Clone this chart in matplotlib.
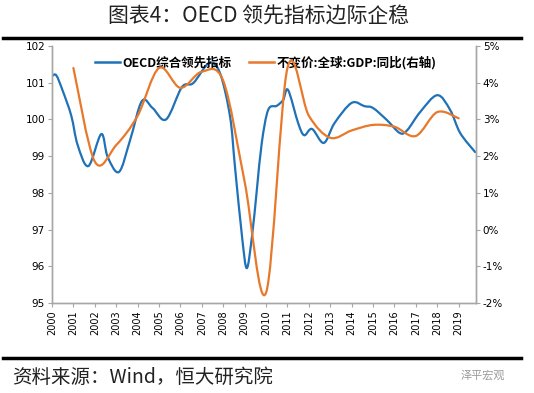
import numpy as np
import matplotlib
matplotlib.use('Agg')
import matplotlib.pyplot as plt
from matplotlib.path import Path
from matplotlib.patches import PathPatch
from matplotlib.lines import Line2D

plt.rcParams['font.family'] = ['Noto Sans CJK SC', 'DejaVu Sans']

#---------------------------------------------- data
# OECD composite leading indicator (left axis)
cli_x = [2000.0, 2000.2, 2000.5, 2000.9, 2001.2, 2001.7, 2002.3, 2002.6, 2003.13, 2003.65,
         2004.2, 2004.7, 2005.33, 2006.07, 2006.6, 2007.35, 2007.85, 2008.32, 2008.55, 2008.88,
         2009.1, 2009.34, 2009.57, 2009.8, 2010.1, 2010.5, 2010.8, 2011.03, 2011.5, 2011.78,
         2012.15, 2012.7, 2013.2, 2014.0, 2014.6, 2015.0, 2015.65, 2016.25, 2016.6, 2017.2,
         2018.0, 2018.6, 2019.07, 2019.77]
cli_v = [101.18, 101.2, 100.78, 100.1, 99.3, 98.73, 99.6, 98.98, 98.57, 99.44,
         100.5, 100.31, 100.0, 100.88, 100.99, 101.54, 101.26, 100.07, 98.7, 96.8,
         95.95, 96.8, 98.08, 99.36, 100.26, 100.37, 100.53, 100.8, 99.9, 99.57,
         99.74, 99.36, 99.9, 100.45, 100.36, 100.31, 99.98, 99.63, 99.71, 100.2,
         100.66, 100.26, 99.63, 99.11]

# global real GDP yoy, % (right axis)
gdp_x = [2001, 2002, 2003, 2004, 2005, 2006, 2007, 2008, 2009, 2010,
         2011, 2012, 2013, 2014, 2015, 2016, 2017, 2018, 2019]
gdp_v = [4.4, 1.85, 2.3, 3.1, 4.4, 3.86, 4.3, 4.05, 1.3, -1.72,
         4.4, 3.1, 2.5, 2.7, 2.85, 2.8, 2.55, 3.2, 3.03]

years = list(range(2000, 2020))
lbl_cli = 'OECD综合领先指标'
lbl_gdp = '不变价:全球:GDP:同比(右轴)'

c_blue = '#1f72b8'
c_orng = '#e8782a'
c_axis = '#a6a6a6'

#---------------------------------------------- smoothed line (excel style bezier)
def smooth_path(xs, ys):
  n = len(xs)
  verts = [(xs[0], ys[0])]
  codes = [Path.MOVETO]
  for i in range(n-1):
    a = max(i-1, 0); d = min(i+2, n-1)
    c1 = (xs[i] + (xs[i+1]-xs[a])/6., ys[i] + (ys[i+1]-ys[a])/6.)
    c2 = (xs[i+1] - (xs[d]-xs[i])/6., ys[i+1] - (ys[d]-ys[i])/6.)
    verts += [c1, c2, (xs[i+1], ys[i+1])]
    codes += [Path.CURVE4]*3
  return Path(verts, codes)

#---------------------------------------------- figure
fig = plt.figure(figsize=(5.34, 3.93), dpi=100)
ax = fig.add_axes([0.0974, 0.229, 0.7936, 0.654])
ax2 = ax.twinx()

ax.add_patch(PathPatch(smooth_path(cli_x, cli_v), facecolor='none', edgecolor=c_blue, lw=1.6, capstyle='round'))
ax2.add_patch(PathPatch(smooth_path(gdp_x, gdp_v), facecolor='none', edgecolor=c_orng, lw=1.6, capstyle='round'))

ax.set_xlim(2000, 2019.8)
ax.set_ylim(95, 102)
ax2.set_ylim(-2, 5)
ax.set_xticks(years)
ax.set_xticklabels([str(y) for y in years], rotation=90, fontsize=7, family='DejaVu Sans')
ax.set_yticks(np.arange(95, 103, 1))
ax.set_yticklabels([str(v) for v in range(95, 103)], fontsize=7.5, family='DejaVu Sans')
ax2.set_yticks(np.arange(-2, 6, 1))
ax2.set_yticklabels(['%d%%' % v for v in range(-2, 6)], fontsize=7.5, family='DejaVu Sans')

for a in (ax, ax2):
  a.spines['top'].set_visible(False)
  for s in ('left', 'right', 'bottom'):
    a.spines[s].set_color(c_axis)
    a.spines[s].set_linewidth(1.0)
  a.tick_params(color=c_axis, length=3, width=0.8, pad=2)
ax.tick_params(axis='x', pad=2)

h = [Line2D([], [], color=c_blue, lw=1.8), Line2D([], [], color=c_orng, lw=1.8)]
ax.legend(h, [lbl_cli, lbl_gdp], loc='upper center', bbox_to_anchor=(0.505, 1.005), ncol=2,
          frameon=False, prop={'weight': 'bold', 'size': 9},
          handlelength=2.0, handletextpad=0.2, columnspacing=1.4)

#---------------------------------------------- title, rules and source
fig.text(0.485, 0.958, '图表4：OECD 领先指标边际企稳', ha='center', va='center', fontsize=15, color='#222222')
fig.add_artist(Line2D([0.005, 0.975], [0.903, 0.903], color='black', lw=2.5))
fig.add_artist(Line2D([0.005, 0.975], [0.088, 0.088], color='black', lw=2.5))
fig.text(0.022, 0.040, '资料来源：Wind，恒大研究院', ha='left', va='center', fontsize=14,
         style='italic', color='#222222')
fig.text(0.945, 0.045, '泽平宏观', ha='right', va='center', fontsize=8, color='#9a9a9a')

fig.savefig('out.png', dpi=100)
